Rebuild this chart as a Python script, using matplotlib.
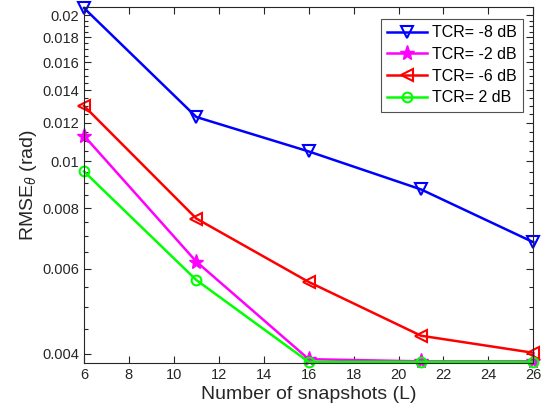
import numpy as np
import matplotlib
matplotlib.use("Agg")
import matplotlib.pyplot as plt
from matplotlib.ticker import FixedLocator, FixedFormatter, NullLocator

plt.rcParams["font.family"] = ["Liberation Sans", "DejaVu Sans"]
plt.rcParams["mathtext.fontset"] = "custom"
plt.rcParams["mathtext.it"] = "Liberation Sans:italic"
plt.rcParams["mathtext.rm"] = "Liberation Sans"

# data
snapshots = [6, 11, 16, 21, 26]
rmse_m8 = [0.0207, 0.01233, 0.01047, 0.00874, 0.0068]
rmse_m2 = [0.01128, 0.0062, 0.0039, 0.00386, 0.00386]
rmse_m6 = [0.0130, 0.00761, 0.00563, 0.00436, 0.00402]
rmse_p2 = [0.00952, 0.00568, 0.00385, 0.00385, 0.00385]
labels = ["TCR= -8 dB", "TCR= -2 dB", "TCR= -6 dB", "TCR= 2 dB"]

y_major = [0.004, 0.006, 0.008, 0.01, 0.012, 0.014, 0.016, 0.018, 0.02]
x_ticks = [6, 8, 10, 12, 14, 16, 18, 20, 22, 24, 26]

grey = "#262626"

fig = plt.figure(figsize=(5.44, 4.12), dpi=100)
ax = fig.add_axes([0.1544, 0.119, 0.826, 0.864])

ax.plot(snapshots, rmse_m8, color="#0000ff", lw=1.8, marker="v", ms=9,
        mfc="none", mew=1.5, label=labels[0], clip_on=False)
ax.plot(snapshots, rmse_m2, color="#ff00ff", lw=1.8, marker="*", ms=11,
        mew=1.0, label=labels[1], clip_on=False)
ax.plot(snapshots, rmse_m6, color="#ff0000", lw=1.8, marker="<", ms=9,
        mfc="none", mew=1.5, label=labels[2], clip_on=False)
ax.plot(snapshots, rmse_p2, color="#00ff00", lw=1.8, marker="o", ms=7,
        mfc="none", mew=1.5, label=labels[3], clip_on=False)

ax.set_yscale("log")
ax.set_xlim(6, 26)
ax.set_ylim(0.00383, 0.0208)

ax.xaxis.set_major_locator(FixedLocator(x_ticks))
ax.xaxis.set_minor_locator(NullLocator())
ax.yaxis.set_major_locator(FixedLocator(y_major))
ax.yaxis.set_major_formatter(FixedFormatter(["%g" % v for v in y_major]))
minor = [round(v, 5) for v in np.arange(0.0045, 0.0205, 0.0005)]
minor = [v for v in minor if all(abs(v - m) > 1e-6 for m in y_major)]
ax.yaxis.set_minor_locator(FixedLocator(minor))
ax.yaxis.set_minor_formatter(FixedFormatter([""] * len(minor)))

ax.tick_params(which="both", direction="in", top=True, right=True,
               colors=grey, labelsize=10.5, width=0.8)
ax.tick_params(which="major", length=5)
ax.tick_params(which="minor", length=3)
for s in ax.spines.values():
    s.set_color(grey)
    s.set_linewidth(0.8)

ax.set_xlabel("Number of snapshots (L)", fontsize=14, color=grey, labelpad=3)
ax.set_ylabel(r"RMSE$_\theta$ (rad)", fontsize=14, color=grey, labelpad=2)

leg = ax.legend(loc="upper right", bbox_to_anchor=(0.978, 0.967), fontsize=11.5,
                frameon=True, fancybox=False, edgecolor=grey, borderpad=0.4,
                handlelength=2.5, handletextpad=0.3, labelspacing=0.42,
                borderaxespad=0.0)
leg.get_frame().set_linewidth(0.8)
for t in leg.get_texts():
    t.set_color("black")

fig.savefig("out.png", dpi=100)
